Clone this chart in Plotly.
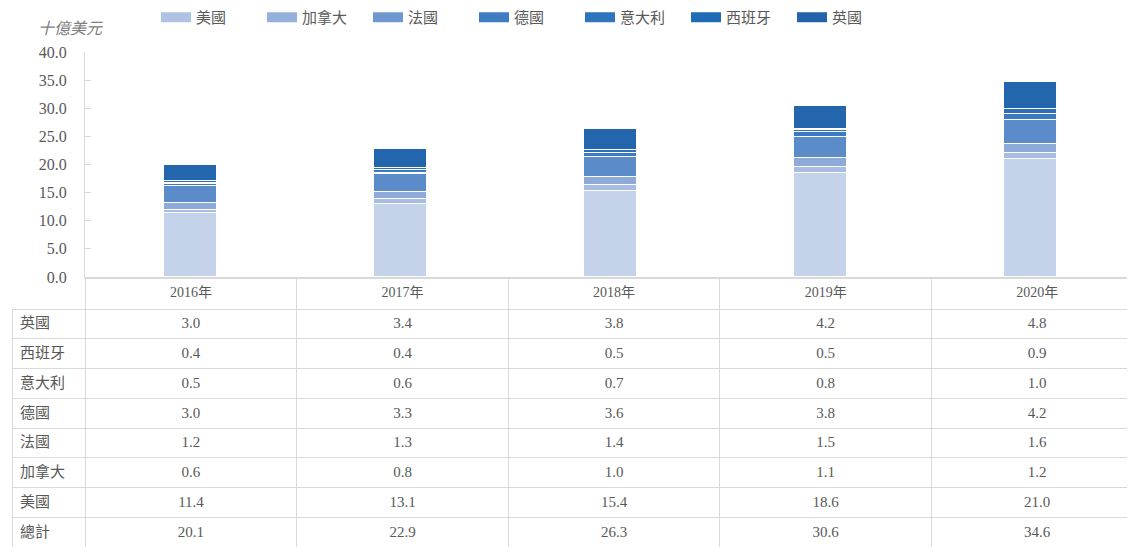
import plotly.graph_objects as go

years = ["2016年", "2017年", "2018年", "2019年", "2020年"]
# stacking order bottom -> top
stack_names = ["美國", "加拿大", "法國", "德國", "意大利", "西班牙", "英國"]
us = [11.4, 13.1, 15.4, 18.6, 21.0]
canada = [0.6, 0.8, 1.0, 1.1, 1.2]
france = [1.2, 1.3, 1.4, 1.5, 1.6]
germany = [3.0, 3.3, 3.6, 3.8, 4.2]
italy = [0.5, 0.6, 0.7, 0.8, 1.0]
spain = [0.4, 0.4, 0.5, 0.5, 0.9]
uk = [3.0, 3.4, 3.8, 4.2, 4.8]
total = [20.1, 22.9, 26.3, 30.6, 34.6]

series = [us, canada, france, germany, italy, spain, uk]
bar_colors = ["#c4d2ea", "#a9bde4", "#8eaad9", "#5b8bc9", "#3a7ac0", "#2e70b8", "#2366ae"]
legend_colors = ["#aec3e4", "#96b0dc", "#6f98d0", "#3e7dc2", "#2e75be", "#1f6bb6", "#2462a9"]

table_rows = ["英國", "西班牙", "意大利", "德國", "法國", "加拿大", "美國", "總計"]
table_series = [uk, spain, italy, germany, france, canada, us, total]

# page body has an 8px default margin; positions below are in window pixels
OFF = 8
W, H = 1135, 547 - OFF


def px(xr):
    return (xr - OFF) / W


def py(yr):
    return 1 - (yr - OFF) / H


fig = go.Figure()
for name, vals, c in zip(stack_names, series, bar_colors):
    fig.add_trace(go.Bar(x=years, y=vals, name=name, marker=dict(color=c, line=dict(color="#ffffff", width=1.2)),
                         showlegend=False, hoverinfo="skip"))
for name, lc in zip(stack_names, legend_colors):
    fig.add_trace(go.Scatter(x=[None], y=[None], mode="lines", name=name,
                             line=dict(color=lc, width=10)))

grey = "#d9d9d9"
txt = "#595959"
font_fam = "Liberation Serif, Noto Sans CJK TC"

cells_vals = [table_rows] + [[f"{s[i]:.1f}" for s in table_series] for i in range(len(years))]
fig.add_trace(go.Table(
    domain=dict(x=[px(12), 1], y=[0, py(278)]),
    columnwidth=[73, 211, 211, 211, 211, 211],
    header=dict(values=[""] + years, height=31, align="center",
                fill=dict(color=["rgba(0,0,0,0)"] + ["white"] * 5),
                line=dict(color=["rgba(0,0,0,0)"] + [grey] * 5, width=1),
                font=dict(family=font_fam, size=14, color=txt)),
    cells=dict(values=cells_vals, height=29.75,
               align=["left"] + ["center"] * 5,
               fill=dict(color="white"),
               line=dict(color=grey, width=1),
               font=dict(family=font_fam, size=15, color=txt)),
))

fig.update_layout(
    width=W, height=H,
    margin=dict(l=0, r=0, t=0, b=0, autoexpand=False),
    paper_bgcolor="white", plot_bgcolor="white",
    barmode="stack", bargap=0.75,
    showlegend=True,
    legend=dict(orientation="h", x=px(156), y=py(1), xanchor="left", yanchor="top",
                traceorder="normal",
                font=dict(family=font_fam, size=15, color=txt),
                entrywidth=61, itemwidth=30, tracegroupgap=0, bgcolor="rgba(0,0,0,0)"),
    xaxis=dict(domain=[px(85), px(1135)], range=[-0.5, 4.5], showticklabels=False, showgrid=False,
               showline=True, linecolor=grey, linewidth=2, zeroline=False, fixedrange=True,
               automargin=False),
    yaxis=dict(domain=[py(277), py(52)], range=[0, 40], dtick=5, tickformat=".1f",
               showgrid=False, showline=True, linecolor=grey, linewidth=1, zeroline=False,
               ticks="inside", ticklen=6, tickcolor=grey, automargin=False, ticklabelstandoff=14,
               tickfont=dict(family="Liberation Serif", size=16, color=txt)),
    annotations=[dict(text="<i>十億美元</i>", x=px(36), y=py(27), xref="paper", yref="paper",
                      xanchor="left", yanchor="middle", showarrow=False,
                      font=dict(family="Noto Sans CJK TC", size=16, color="#7f7f7f"))],
)

fig.write_html("out.html")
